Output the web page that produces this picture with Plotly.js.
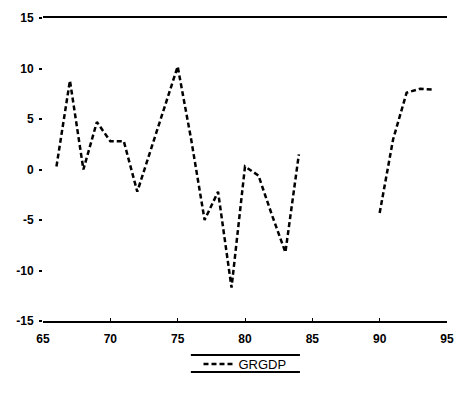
<!DOCTYPE html>
<html>
<head>
<meta charset="utf-8">
<script src="https://cdn.plot.ly/plotly-3.0.1.min.js"></script>
<style>html,body{margin:0;padding:0;background:#fff;}#chart{width:464px;height:395px;}</style>
</head>
<body>
<div id="chart"></div>
<script>
const seriesName = "GRGDP";
const years = [66,67,68,69,70,71,72,73,74,75,76,77,78,79,80,81,82,83,84,85,86,87,88,89,90,91,92,93,94];
const grgdp = [0.3,8.8,0.0,4.7,2.8,2.8,-2.2,2.0,6.0,10.2,3.0,-5.0,-2.2,-11.7,0.3,-0.6,-4.5,-8.2,1.5,null,null,null,null,null,-4.3,3.0,7.6,8.0,7.9];
const xTicks = [65,70,75,80,85,90,95];
const yTicks = [-15,-10,-5,0,5,10,15];

const tickFont = {family: "Liberation Sans, Arial, sans-serif", size: 12, color: "#000", weight: "bold"};

const trace = {
  x: years, y: grgdp, type: "scatter", mode: "lines", name: seriesName,
  connectgaps: false,
  line: {color: "#000", width: 2.5, dash: "5px,3px"}
};

const layout = {
  width: 464, height: 395,
  margin: {l: 43, r: 17, t: 18, b: 74},
  paper_bgcolor: "#fff", plot_bgcolor: "#fff",
  showlegend: true,
  legend: {orientation: "h", x: 0.5, xanchor: "center", y: -0.142, yanchor: "middle",
           font: {family: "Liberation Sans, Arial, sans-serif", size: 13, color: "#000"},
           bgcolor: "rgba(0,0,0,0)"},
  xaxis: {range: [65, 95], tickvals: xTicks, ticktext: xTicks.map(String),
          showgrid: false, zeroline: false, showline: true, mirror: true,
          linecolor: "#000", linewidth: 2, ticks: "inside", ticklen: 3, tickcolor: "#000",
          ticklabelstandoff: 6, tickfont: tickFont},
  yaxis: {range: [-15, 15], tickvals: yTicks, ticktext: yTicks.map(String),
          showgrid: false, zeroline: false, showline: false,
          ticks: "outside", ticklen: 3, tickcolor: "#000", tickwidth: 2,
          ticklabelstandoff: 3, tickfont: tickFont},
  shapes: [
    {type: "line", xref: "paper", yref: "paper", x0: 0.366, x1: 0.636, y0: -0.112, y1: -0.112, line: {color: "#000", width: 2}},
    {type: "line", xref: "paper", yref: "paper", x0: 0.366, x1: 0.636, y0: -0.168, y1: -0.168, line: {color: "#000", width: 2}}
  ]
};

Plotly.newPlot("chart", [trace], layout, {displayModeBar: false, staticPlot: true});
</script>
</body>
</html>
